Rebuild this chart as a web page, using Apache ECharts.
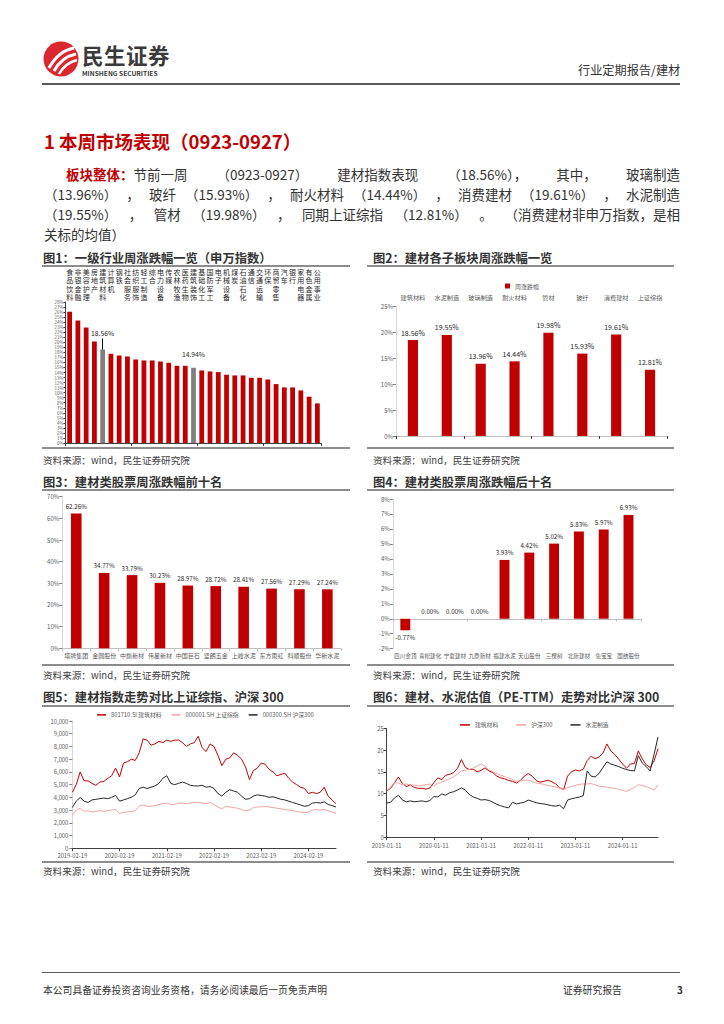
<!DOCTYPE html>
<html><head><meta charset="utf-8">
<script src="https://cdn.jsdelivr.net/npm/echarts@6/dist/echarts.min.js"></script>
<style>
body{margin:0;width:724px;height:1024px;position:relative;background:#fff;font-family:"Noto Sans CJK SC","Noto Sans",sans-serif;color:#333;overflow:hidden}
.t{position:absolute;white-space:nowrap}
.ln{position:absolute;height:1.5px;background:#8c8c8c}
.ft{font-weight:bold;font-size:12.3px;line-height:16px;color:#333}
.src{font-size:9.6px;line-height:14px;color:#404040}
.pl{position:absolute;left:44px;width:636px;font-size:13.5px;line-height:20px;color:#333;white-space:nowrap;display:flex;justify-content:space-between}
#chart{position:absolute;left:0;top:0;width:724px;height:1024px}
</style></head><body>
<svg class="t" style="left:43px;top:41px" width="36" height="36" viewBox="0 0 36 36">
<circle cx="18" cy="18" r="17.5" fill="#D9282F"/>
<path d="M6 27 C12 16 20 9 31 7" stroke="#fff" stroke-width="3" fill="none"/>
<path d="M11 30 C16 21 23 15 33 13" stroke="#fff" stroke-width="3" fill="none"/>
<path d="M16 33 C20 26 26 21 34 19" stroke="#fff" stroke-width="2.5" fill="none"/>
</svg>
<div class="t" style="left:82px;top:44px;font-size:21.5px;line-height:22px;font-weight:bold;color:#3a3a3a;letter-spacing:0.5px">民生证券</div>
<div class="t" style="left:82px;top:69px;font-size:6.6px;line-height:8px;font-weight:bold;color:#3a3a3a">MINSHENG SECURITIES</div>
<div class="t" style="left:578px;top:62px;font-size:12.2px;line-height:16px;color:#333">行业定期报告/建材</div>
<div class="ln" style="left:42px;top:83px;width:638px;background:#595959"></div>

<div class="t" style="left:44px;top:129px;font-size:18.5px;line-height:24px;font-weight:bold;color:#C00000">1 本周市场表现（0923-0927）</div>
<div class="pl" style="top:164px;left:66px;width:614px"><span><b style="color:#C00000">板块整体：</b>节前一周</span><span>（0923-0927）</span><span>建材指数表现</span><span>（18.56%），</span><span>其中，</span><span>玻璃制造</span></div>
<div class="pl" style="top:184px"><span>（13.96%）</span><span>，</span><span>玻纤</span><span>（15.93%）</span><span>，</span><span>耐火材料</span><span>（14.44%）</span><span>，</span><span>消费建材</span><span>（19.61%）</span><span>，</span><span>水泥制造</span></div>
<div class="pl" style="top:204px"><span>（19.55%）</span><span>，</span><span>管材</span><span>（19.98%）</span><span>，</span><span>同期上证综指</span><span>（12.81%）</span><span>。</span><span>（消费建材非申万指数，是相</span></div>
<div class="t" style="left:44px;top:224px;font-size:13.5px;line-height:20px;color:#333">关标的均值）</div>

<div class="t ft" style="left:43px;top:250px">图1：一级行业周涨跌幅一览（申万指数）</div>
<div class="ln" style="left:42px;top:265px;width:308px"></div>
<div class="t ft" style="left:373px;top:250px">图2：建材各子板块周涨跌幅一览</div>
<div class="ln" style="left:367px;top:265px;width:307px"></div>
<div class="ln" style="left:42px;top:447px;width:308px"></div>
<div class="ln" style="left:367px;top:447px;width:307px"></div>
<div class="t src" style="left:43px;top:453px">资料来源：wind，民生证券研究院</div>
<div class="t src" style="left:373px;top:453px">资料来源：wind，民生证券研究院</div>

<div class="t ft" style="left:43px;top:474px">图3：建材类股票周涨跌幅前十名</div>
<div class="ln" style="left:42px;top:489px;width:308px"></div>
<div class="t ft" style="left:373px;top:474px">图4：建材类股票周涨跌幅后十名</div>
<div class="ln" style="left:367px;top:489px;width:307px"></div>
<div class="ln" style="left:42px;top:664px;width:308px"></div>
<div class="ln" style="left:367px;top:664px;width:307px"></div>
<div class="t src" style="left:43px;top:668px">资料来源：wind，民生证券研究院</div>
<div class="t src" style="left:373px;top:668px">资料来源：wind，民生证券研究院</div>

<div class="t ft" style="left:43px;top:689px">图5：建材指数走势对比上证综指、沪深 300</div>
<div class="ln" style="left:42px;top:705px;width:308px"></div>
<div class="t ft" style="left:373px;top:689px">图6：建材、水泥估值（PE-TTM）走势对比沪深 300</div>
<div class="ln" style="left:367px;top:705px;width:307px"></div>
<div class="ln" style="left:42px;top:861px;width:308px"></div>
<div class="ln" style="left:367px;top:861px;width:307px"></div>
<div class="t src" style="left:43px;top:864px">资料来源：wind，民生证券研究院</div>
<div class="t src" style="left:373px;top:864px">资料来源：wind，民生证券研究院</div>

<div class="ln" style="left:42px;top:972px;width:638px;background:#595959;height:1px"></div>
<div class="t" style="left:43px;top:983px;font-size:9.8px;line-height:14px;color:#333">本公司具备证券投资咨询业务资格，请务必阅读最后一页免责声明</div>
<div class="t" style="left:563px;top:983px;font-size:9.8px;line-height:14px;color:#333">证券研究报告</div>
<div class="t" style="left:677px;top:983px;font-size:9.8px;line-height:14px;color:#333;font-weight:bold">3</div>

<div id="chart"></div>
<script>
// ---- Fig1: 申万一级行业周涨跌幅 (%)
const indNames = ['食品饮料','非银金融','美容护理','房地产','建筑材料','计算机','钢铁','社会服务','纺织服饰','轻工制造','综合','电力设备','传媒','农林牧渔','医药生物','建筑装饰','基础化工','国防军工','电子','机械设备','煤炭','石油石化','通信','交通运输','环保','商贸零售','汽车','银行','家用电器','有色金属','公用事业'];
const indValues = [26.04,24.32,22.93,20.16,18.56,17.71,17.38,17.18,16.59,16.39,16.39,16.19,15.93,15.33,15.33,14.94,14.41,14.21,14.08,13.55,13.42,13.42,12.95,12.95,12.62,11.70,11.04,11.04,10.44,9.19,7.87];
const indHighlight = ['建筑材料','建筑装饰'];
// ---- Fig2: 建材各子板块
const subNames = ['建筑材料','水泥制造','玻璃制造','耐火材料','管材','玻纤','消费建材','上证综指'];
const subValues = [18.56,19.55,13.96,14.44,19.98,15.93,19.61,12.81];
// ---- Fig3: 前十名
const topNames = ['塔牌集团','金圆股份','中旗新材','伟星新材','中国巨石','坚朗五金','上峰水泥','东方雨虹','科顺股份','华新水泥'];
const topValues = [62.26,34.77,33.79,30.23,28.97,28.72,28.41,27.56,27.29,27.24];
// ---- Fig4: 后十名
const botNames = ['四川金顶','青松建化','宁夏建材','九鼎新材','福建水泥','天山股份','三棵树','北新建材','兔宝宝','国统股份'];
const botValues = [-0.77,0.00,0.00,0.00,3.93,4.42,5.02,5.83,5.97,6.93];
// ---- Fig5: 指数走势 (monthly)
const idxRed = [4400,5000,6000,5300,5300,5100,4950,5200,5250,5500,5700,6300,5600,6700,6800,7000,6900,7500,8600,8500,8100,8200,8400,8300,8500,8400,8500,8500,8300,8000,8200,8300,8800,7900,7600,8200,8000,7300,6500,7000,7100,7500,7300,7000,6400,5400,6100,6300,6700,6600,6200,6000,5700,5800,5900,5500,5200,5000,4800,4700,4300,4400,4300,4400,4800,4100,3800,3500];
const idxHs300 = [3200,3700,4000,3700,3600,3800,3850,3900,3950,3900,4000,4150,3700,3800,3900,4000,4200,4700,4800,4700,4800,4900,5100,5500,5700,5100,5000,5100,5200,5100,4950,4900,4900,4950,4800,4850,4700,4300,4100,4400,4600,4500,4400,4100,3850,3900,4100,4200,4150,4100,4000,4050,3950,3850,3800,3700,3600,3500,3400,3300,3350,3550,3600,3550,3650,3450,3350,3250];
const idxSh = [2600,3000,3150,2900,2950,2850,2900,2950,2900,2950,3000,3050,2750,2800,2850,2900,2950,3300,3400,3300,3300,3350,3450,3500,3550,3450,3450,3550,3550,3500,3550,3600,3600,3550,3500,3600,3450,3250,3100,3300,3250,3200,3150,3050,2950,3000,3200,3250,3250,3300,3250,3200,3150,3100,3050,3000,2950,2900,2850,2800,2850,3000,3050,3000,3050,2950,2850,2750];
// ---- Fig6: PE-TTM (monthly)
const peJc = [10.6,11.2,12.5,13.8,12.3,11.6,12.0,11.4,11.2,11.2,11.0,11.3,12.5,13.6,13.2,14.2,14.4,14.8,15.8,17.8,16.0,15.5,15.6,15.0,15.3,15.9,15.2,14.8,14.0,13.6,13.4,13.0,12.8,12.4,13.0,14.0,14.6,14.0,13.0,12.6,12.8,13.1,12.7,12.2,11.3,10.9,14.0,15.0,15.4,15.2,15.6,17.6,18.6,18.0,18.4,19.3,21.4,19.8,19.0,17.9,16.8,15.8,16.8,16.9,19.8,18.0,16.6,16.0,17.5,20.3];
const peHs300 = [10.6,11.5,12.5,12.4,12.0,12.2,12.0,11.9,11.8,11.9,12.0,12.2,11.7,12.3,12.6,13.0,13.4,13.8,14.5,15.2,15.4,15.5,15.9,16.3,16.8,16.3,15.5,15.0,14.6,14.2,13.9,13.6,13.2,12.8,12.9,13.0,13.1,12.7,12.4,12.3,12.1,11.8,11.7,11.5,11.2,10.9,11.4,11.6,11.9,12.1,12.2,12.2,12.3,12.0,11.7,11.6,11.5,11.3,11.2,11.0,10.7,10.5,10.9,11.4,12.0,11.9,11.6,11.2,10.8,12.0];
const peCement = [7.8,8.0,9.0,9.6,8.5,8.1,8.3,8.1,8.2,8.3,8.1,8.4,9.3,9.2,9.9,9.6,10.2,10.4,10.8,11.3,10.8,9.8,9.2,8.9,8.5,8.6,8.4,8.0,7.5,7.2,6.9,6.7,8.0,7.6,7.8,8.0,8.5,8.2,7.9,7.7,7.6,7.4,7.2,7.1,7.3,6.5,8.5,8.8,9.0,9.2,9.5,15.2,14.0,13.8,14.6,16.0,17.3,16.8,16.5,16.2,15.8,15.5,15.3,15.2,18.7,17.0,16.2,15.2,19.0,23.0];

function monthly(y, m, d, n){ const out=[]; for(let i=0;i<n;i++){ const mm=m-1+i; const yy=y+Math.floor(mm/12); const mo=mm%12+1; out.push(yy+'-'+String(mo).padStart(2,'0')+'-'+String(d).padStart(2,'0')); } return out; }
const idxDates = monthly(2019,2,19,idxRed.length);
const peDates = monthly(2019,1,11,peJc.length-1).concat(['2024-09-27']);

const RED='#C00000', GREY='#7F7F7F', LBL='#595959';
const pct = v => v.toFixed(2)+'%';
const jcName = '建筑材料', jcVal = indValues[indNames.indexOf('建筑材料')];

const chart = echarts.init(document.getElementById('chart'), null, {renderer:'svg'});
chart.setOption({
  animation:false,
  textStyle:{fontFamily:'"Noto Sans CJK SC","Noto Sans",sans-serif'},
  grid:[
    {left:65.5, top:302, width:256, height:141},
    {left:396, top:306.7, width:271, height:129.3},
    {left:62.3, top:496.7, width:279, height:151.6},
    {left:392.9, top:499, width:248, height:149.7},
    {left:72.3, top:721, width:263.7, height:127.3},
    {left:386.7, top:728.3, width:271.3, height:108.7}
  ],
  legend:[
    {data:['周涨跌幅'], left:500, top:278, itemWidth:5, itemHeight:5, icon:'rect', textStyle:{fontSize:6,color:LBL}, itemGap:4},
    {data:['801710.SI 建筑材料','000001.SH 上证综指','000300.SH 沪深300'], left:92, top:707, itemWidth:9, itemHeight:1.5, icon:'rect', itemGap:10, textStyle:{fontSize:5.8,color:LBL}},
    {data:['建筑材料','沪深300','水泥制造'], left:455, top:717, itemWidth:10, itemHeight:1.5, icon:'rect', itemGap:18, textStyle:{fontSize:5.8,color:LBL}}
  ],
  xAxis:[
    {type:'category', gridIndex:0, data:indNames, axisLine:{lineStyle:{color:'#404040'}}, axisTick:{show:true, length:3, lineStyle:{color:'#404040'}}, axisLabel:{show:false}},
    {type:'category', gridIndex:0, position:'top', data:indNames, axisLine:{show:false}, axisTick:{show:false},
     axisLabel:{interval:0, margin:34, verticalAlign:'top', fontSize:7, lineHeight:8.2, color:'#262626', formatter:v=>v.split('').join('\n')}},
    {type:'category', gridIndex:1, data:subNames, axisLine:{lineStyle:{color:'#bfbfbf'}}, axisTick:{show:true, length:3, lineStyle:{color:'#404040'}}, axisLabel:{show:false}},
    {type:'category', gridIndex:1, position:'top', data:subNames, axisLine:{show:false}, axisTick:{show:false}, axisLabel:{interval:0, margin:6, fontSize:6.2, color:LBL}},
    {type:'category', gridIndex:2, data:topNames, axisLine:{lineStyle:{color:'#bfbfbf'}}, axisTick:{show:true, length:3, lineStyle:{color:'#bfbfbf'}}, axisLabel:{interval:0, margin:4, fontSize:6, color:LBL}},
    {type:'category', gridIndex:3, data:botNames, axisLine:{onZero:true, lineStyle:{color:'#bfbfbf'}}, axisTick:{show:true, length:3, lineStyle:{color:'#bfbfbf'}}, axisLabel:{show:false}},
    {type:'category', gridIndex:3, position:'bottom', data:botNames, axisLine:{show:false, onZero:false}, axisTick:{show:false}, axisLabel:{interval:0, margin:4, fontSize:5.6, color:LBL}},
    {type:'category', gridIndex:4, data:idxDates, boundaryGap:false, axisLine:{lineStyle:{color:'#404040'}},
     axisTick:{show:true, length:3, interval:(i,v)=>v.slice(5)==='02-19'}, axisLabel:{fontSize:5.8, color:LBL, margin:4.5, interval:(i,v)=>v.slice(5)==='02-19'}},
    {type:'category', gridIndex:5, data:peDates, boundaryGap:false, axisLine:{lineStyle:{color:'#404040'}},
     axisTick:{show:true, length:3, interval:(i,v)=>v.slice(5)==='01-11'}, axisLabel:{fontSize:5.8, color:LBL, margin:6, interval:(i,v)=>v.slice(5)==='01-11'}}
  ],
  yAxis:[
    {type:'value', gridIndex:0, min:0, max:28, interval:1, axisLine:{show:true, lineStyle:{color:'#404040'}}, axisTick:{show:true, length:2}, splitLine:{show:false}, axisLabel:{fontSize:4.4, lineHeight:4.8, margin:2, color:LBL, formatter:'{value}%'}},
    {type:'value', gridIndex:1, min:0, max:25, interval:5, axisLine:{show:true, lineStyle:{color:'#d9d9d9'}}, axisTick:{show:true, length:3, lineStyle:{color:'#7f7f7f'}}, splitLine:{show:false}, axisLabel:{fontSize:6, margin:3, color:LBL, formatter:'{value}%'}},
    {type:'value', gridIndex:2, min:0, max:70, interval:10, axisLine:{show:true, lineStyle:{color:'#d9d9d9'}}, axisTick:{show:true, length:3, lineStyle:{color:'#7f7f7f'}}, splitLine:{show:false}, axisLabel:{fontSize:6, margin:3, color:LBL, formatter:'{value}%'}},
    {type:'value', gridIndex:3, min:-2, max:8, interval:1, axisLine:{show:true, lineStyle:{color:'#d9d9d9'}}, axisTick:{show:true, length:3, lineStyle:{color:'#7f7f7f'}}, splitLine:{show:false}, axisLabel:{fontSize:6, margin:3, color:LBL, formatter:'{value}%'}},
    {type:'value', gridIndex:4, min:0, max:10000, interval:1000, axisLine:{show:true, lineStyle:{color:'#d9d9d9'}}, axisTick:{show:true, length:3, lineStyle:{color:'#7f7f7f'}}, splitLine:{show:false}, axisLabel:{fontSize:5.8, margin:4, color:LBL, formatter:v=>v.toLocaleString('en-US')}},
    {type:'value', gridIndex:5, min:0, max:25, interval:5, axisLine:{show:true, lineStyle:{color:'#404040'}}, axisTick:{show:true, length:3, lineStyle:{color:'#404040'}}, splitLine:{show:false}, axisLabel:{fontSize:5.8, margin:3, color:LBL}}
  ],
  series:[
    {name:'一级行业周涨跌幅', type:'bar', xAxisIndex:0, yAxisIndex:0, barWidth:'58%',
     data:indValues.map((v,i)=>{
       const hi = indHighlight.includes(indNames[i]);
       const o = {value:v, itemStyle:{color: hi?GREY:RED}};
       if(hi){ o.label = {show:true, position:'top', distance: indNames[i]===jcName ? 13 : 10, fontSize:6.8, color:'#262626', formatter:pct(v)}; }
       return o; }),
     markLine:{silent:true, symbol:'none', label:{show:false}, lineStyle:{color:'#000', width:1, type:'solid'},
       data:[[{xAxis:jcName, yAxis:jcVal},{xAxis:jcName, yAxis:jcVal+2.2}]]}},
    {name:'周涨跌幅', type:'bar', xAxisIndex:2, yAxisIndex:1, barWidth:'30%', itemStyle:{color:RED}, data:subValues,
     label:{show:true, position:'top', distance:4, fontSize:7, color:'#262626', formatter:p=>pct(p.value)}},
    {name:'前十名', type:'bar', xAxisIndex:4, yAxisIndex:2, barWidth:'38%', itemStyle:{color:RED}, data:topValues,
     label:{show:true, position:'top', distance:4, fontSize:6.2, color:'#262626', formatter:p=>pct(p.value)}},
    {name:'后十名', type:'bar', xAxisIndex:5, yAxisIndex:3, barWidth:'40%', itemStyle:{color:RED},
     data:botValues.map(v=>v<0?{value:v,label:{position:'bottom'}}:v),
     label:{show:true, position:'top', distance:4, fontSize:6.2, color:'#262626', formatter:p=>pct(p.value)}},
    {name:'801710.SI 建筑材料', type:'line', xAxisIndex:7, yAxisIndex:4, data:idxRed, symbol:'none', lineStyle:{width:1, color:RED}, itemStyle:{color:RED}},
    {name:'000001.SH 上证综指', type:'line', xAxisIndex:7, yAxisIndex:4, data:idxSh, symbol:'none', lineStyle:{width:1, color:'#F4A3A3'}, itemStyle:{color:'#F4A3A3'}},
    {name:'000300.SH 沪深300', type:'line', xAxisIndex:7, yAxisIndex:4, data:idxHs300, symbol:'none', lineStyle:{width:1, color:'#262626'}, itemStyle:{color:'#262626'}},
    {name:'建筑材料', type:'line', xAxisIndex:8, yAxisIndex:5, data:peJc, symbol:'none', lineStyle:{width:1, color:RED}, itemStyle:{color:RED}},
    {name:'沪深300', type:'line', xAxisIndex:8, yAxisIndex:5, data:peHs300, symbol:'none', lineStyle:{width:1, color:'#F4A3A3'}, itemStyle:{color:'#F4A3A3'}},
    {name:'水泥制造', type:'line', xAxisIndex:8, yAxisIndex:5, data:peCement, symbol:'none', lineStyle:{width:1, color:'#262626'}, itemStyle:{color:'#262626'}}
  ]
});
</script>
</body></html>
